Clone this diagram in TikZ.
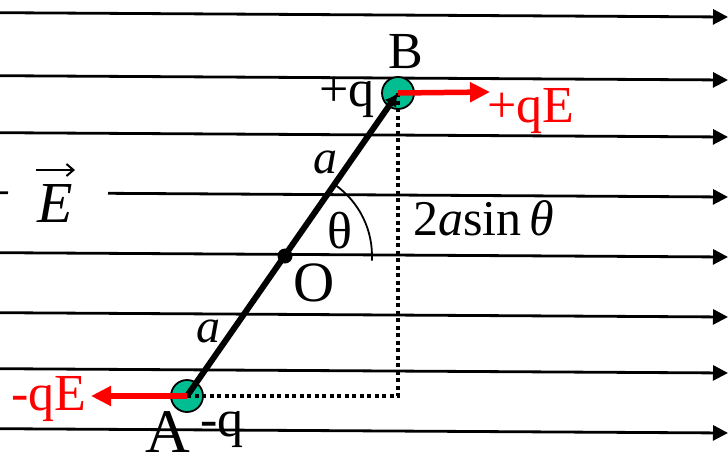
\documentclass[tikz,border=0pt]{standalone}
\usepackage{fontspec}
\setmainfont{Liberation Serif}
\usetikzlibrary{calc,positioning,arrows.meta}
\definecolor{chargegreen}{RGB}{0,190,145}

\begin{document}
\begin{tikzpicture}[>=Latex, x=1pt, y=-1pt]
  \tikzset{
    fieldline/.style={line width=2.8pt, -{Triangle[length=15pt,width=15pt]}},
    force/.style={red, line width=5.5pt, -{Triangle[length=20pt,width=19pt]}},
    charge/.style={circle, draw=black, line width=1.8pt, fill=chargegreen,
      minimum size=32pt, inner sep=0pt},
    lbl/.style={inner sep=0pt, font=\fontsize{52}{60}\selectfont},
  }
  \useasboundingbox (0,0) rectangle (728,458);

  % field lines (slightly tilted)
  \foreach \y [count=\i] in {17,80,137,257,317,373,433} {
    \coordinate (fl\i) at (0,\y-4.3);
    \coordinate (fr\i) at (728,\y);
    \draw[fieldline] (fl\i) -- (fr\i);
  }
  \coordinate (el) at (0,192.7);
  \coordinate (em) at (8,192.8);
  \coordinate (en) at (108,193.3);
  \coordinate (er) at (728,197);
  \draw[line width=2.8pt] (el) -- (em);
  \draw[fieldline] (en) -- (er);

  % field label
  \node[lbl, font=\fontsize{58}{66}\selectfont\itshape, anchor=base] (E) at (55,222) {E};
  \coordinate (ea) at (36,170);
  \coordinate (eb) at (75,170);
  \draw[line width=2pt, -{Straight Barb[length=7pt,width=12pt]}] (ea) -- (eb);

  % charges and centre
  \node[charge] (A) at (187,396) {};
  \node[charge] (B) at (398,93) {};
  \node[circle, fill=black, minimum size=15pt, inner sep=0pt] (O) at (285,256) {};

  % projection
  \coordinate (C) at (B.center |- A.center);
  \draw[line width=3.8pt, dash pattern=on 4pt off 3.5pt] (B.center) -- (C) -- (A.center);

  % dipole
  \draw[line width=6pt, -{Latex[length=13pt,width=14pt]}] (A.center) -- (B.center);
  \draw[line width=1.8pt] (O.center) ++(-3:87pt) arc[start angle=-3, end angle=55, radius=87pt];

  % forces
  \coordinate (Bf) at (490,92);
  \coordinate (Af) at (91,396);
  \draw[force] (B.center) -- (Bf);
  \draw[force] (A.center) -- (Af);

  % labels
  \node[lbl, anchor=base] (lB) at (406,68) {B};
  \node[lbl, font=\fontsize{62}{70}\selectfont, anchor=base] (lA) at (168,452) {A};
  \node[lbl, anchor=base] (qB) at (347,106) {+q};
  \node[lbl, anchor=base] (qA) at (222,436) {-q};
  \node[lbl, red, anchor=base] (FB) at (531,122) {+qE};
  \node[lbl, red, anchor=base] (FA) at (49,410) {-qE};
  \node[lbl, font=\fontsize{48}{56}\selectfont\itshape, anchor=base] (a1) at (325,173) {a};
  \node[lbl, font=\fontsize{48}{56}\selectfont\itshape, anchor=base] (a2) at (208,342) {a};
  \node[lbl] (th) at (340,231) {θ};
  \node[lbl, font=\fontsize{57}{64}\selectfont, anchor=base] (lO) at (314,301) {O};
  \node[lbl, font=\fontsize{50}{58}\selectfont, anchor=base west] (h) at (413,235)
    {2\textit{a}sin\,\textit{θ}};
\end{tikzpicture}
\end{document}
